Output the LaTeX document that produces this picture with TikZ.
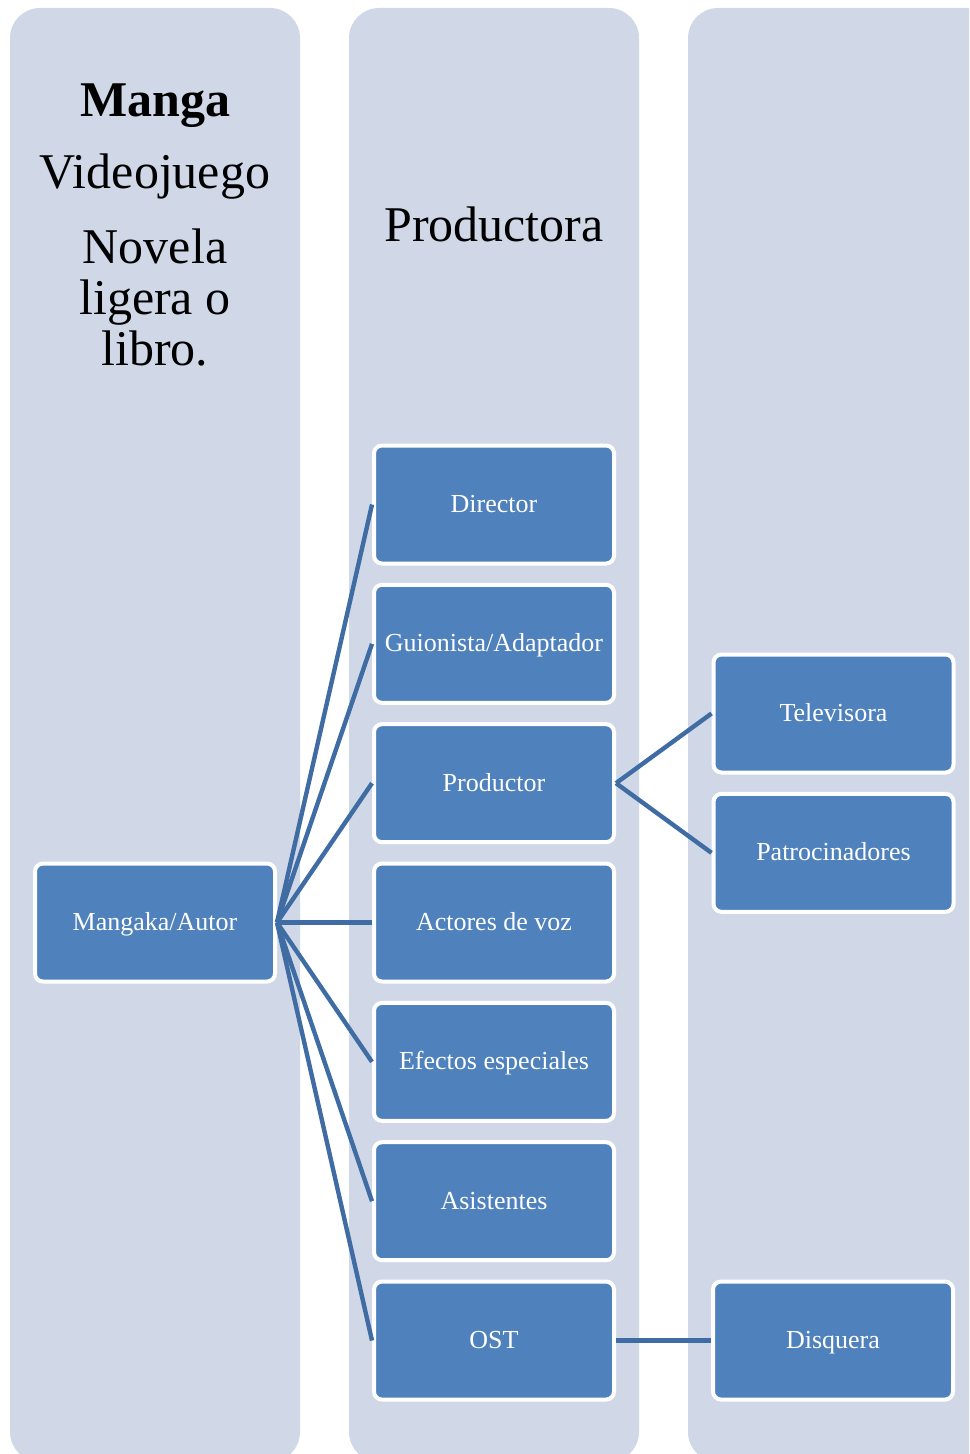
\documentclass[tikz,border=0pt]{standalone}
\usepackage{fontspec}
\setmainfont{Liberation Serif}
\usepackage{xcolor}
\usepackage{tikz}
\usetikzlibrary{positioning}

\definecolor{colbg}{HTML}{D0D8E8}
\definecolor{boxfill}{HTML}{4F81BD}
\definecolor{linkblue}{HTML}{3F6CA3}

\begin{document}
\begin{tikzpicture}[
        x=0.5pt, y=-0.5pt,
        node distance=8.67pt and 47.5pt,
        column/.style={fill=colbg, rounded corners=15pt},
        heading/.style={align=center, inner sep=0pt, font=\fontsize{25}{25.5}\selectfont},
        block/.style={rectangle, draw=white, line width=2pt, fill=boxfill, rounded corners=4pt, minimum width=120pt, minimum height=59pt, inner sep=2pt, text height=10pt, text depth=2pt, text=white, font=\fontsize{13}{15}\selectfont},
        line/.style={draw=linkblue, line width=2.2pt}
    ]

    \useasboundingbox (0,0) rectangle (969,1454);
    \clip (0,0) rectangle (969,1454);

    % Columns
    \fill [column] (10,8) rectangle (300,1462);
    \fill [column] (349,8) rectangle (639,1462);
    \fill [column] (688,8) rectangle (1010,1462);

    % Headings
    \node [heading, anchor=base] (manga) at (155,117) {\textbf{Manga}};
    \node [heading, anchor=base] (videojuego) at (155,189) {Videojuego};
    \node [heading, anchor=north] (novela) at (155,228) {Novela\\ligera o\\libro.};
    \node [heading, anchor=base] (productora) at (494,242) {Productora};

    % Nodes
    \node [block] (director) at (494,504.5) {Director};
    \node [block, below=of director] (guionista) {Guionista/Adaptador};
    \node [block, below=of guionista] (productor) {Productor};
    \node [block, below=of productor] (actores) {Actores de voz};
    \node [block, below=of actores] (efectos) {Efectos especiales};
    \node [block, below=of efectos] (asistentes) {Asistentes};
    \node [block, below=of asistentes] (ost) {OST};
    \node [block, left=of actores] (mangaka) {Mangaka/Autor};
    \node [block] (televisora) at (833.5,713.5) {Televisora};
    \node [block, below=of televisora] (patrocinadores) {Patrocinadores};
    \node [block, right=of ost] (disquera) {Disquera};

    % Edges
    \path [line] (mangaka.east) -- (director.west);
    \path [line] (mangaka.east) -- (guionista.west);
    \path [line] (mangaka.east) -- (productor.west);
    \path [line] (mangaka.east) -- (actores.west);
    \path [line] (mangaka.east) -- (efectos.west);
    \path [line] (mangaka.east) -- (asistentes.west);
    \path [line] (mangaka.east) -- (ost.west);
    \path [line] (productor.east) -- (televisora.west);
    \path [line] (productor.east) -- (patrocinadores.west);
    \path [line] (ost.east) -- (disquera.west);

\end{tikzpicture}
\end{document}
